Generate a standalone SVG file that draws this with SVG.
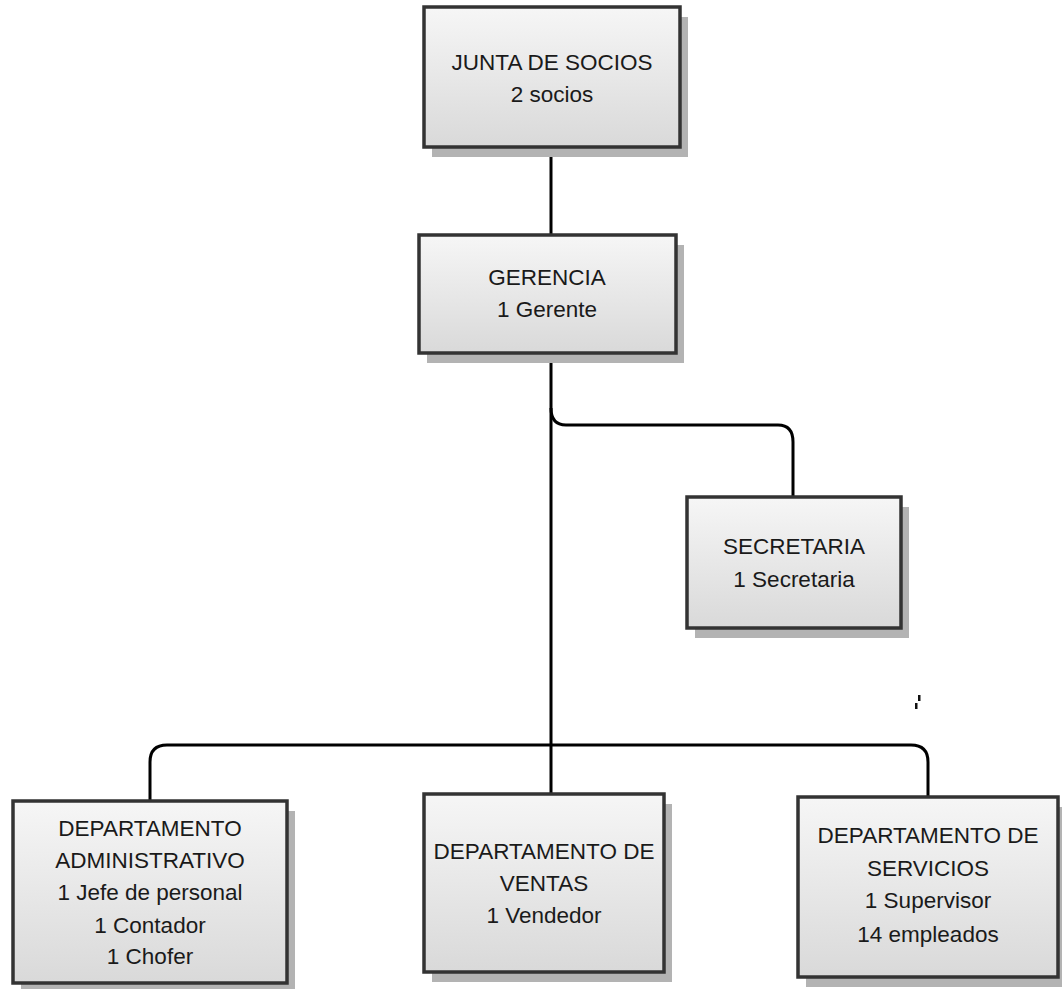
<svg xmlns="http://www.w3.org/2000/svg" width="1062" height="989" viewBox="0 0 1062 989">
<defs>
<linearGradient id="g" x1="0" y1="0" x2="0" y2="1">
<stop offset="0" stop-color="#f6f6f6"/>
<stop offset="1" stop-color="#d9d9d9"/>
</linearGradient>
</defs>
<style>
.box{fill:url(#g);stroke:#333;stroke-width:3.5}
.sh{fill:#b3b3b3}
.t{font-family:"Liberation Sans",Arial,sans-serif;font-size:22.5px;fill:#1a1a1a;text-anchor:middle}
.c{fill:none;stroke:#000;stroke-width:3}
</style>
<rect width="1062" height="989" fill="#fff"/>
<g id="connectors">
<path class="c" d="M551 147 V235"/>
<path class="c" d="M551 353 V795"/>
<path class="c" d="M551 408 Q551 425 566 425 H778 Q793 425 793 442 V497"/>
<path class="c" d="M150 801 V762 Q150 745 167 745 H911 Q928 745 928 762 V797"/>
</g>
<g id="junta">
<rect class="sh" x="432" y="17" width="256" height="140"/>
<rect class="box" x="424" y="7" width="256" height="140"/>
<text class="t" x="552" y="70">JUNTA DE SOCIOS</text>
<text class="t" x="552" y="102">2 socios</text>
</g>
<g id="gerencia">
<rect class="sh" x="427" y="245" width="257" height="118"/>
<rect class="box" x="419" y="235" width="257" height="118"/>
<text class="t" x="547" y="285">GERENCIA</text>
<text class="t" x="547" y="317">1 Gerente</text>
</g>
<g id="secretaria">
<rect class="sh" x="695" y="507" width="214" height="131"/>
<rect class="box" x="687" y="497" width="214" height="131"/>
<text class="t" x="794" y="554">SECRETARIA</text>
<text class="t" x="794" y="587">1 Secretaria</text>
</g>
<g id="mark">
<rect x="918" y="695" width="2.5" height="6" fill="#111"/>
<rect x="915" y="703" width="2.5" height="6" fill="#111"/>
</g>
<g id="administrativo">
<rect class="sh" x="21" y="811" width="274" height="182"/>
<rect class="box" x="13" y="801" width="274" height="182"/>
<text class="t" x="150" y="836">DEPARTAMENTO</text>
<text class="t" x="150" y="868">ADMINISTRATIVO</text>
<text class="t" x="150" y="900">1 Jefe de personal</text>
<text class="t" x="150" y="933">1 Contador</text>
<text class="t" x="150" y="964">1 Chofer</text>
</g>
<g id="ventas">
<rect class="sh" x="432" y="804" width="240" height="178"/>
<rect class="box" x="424" y="794" width="240" height="178"/>
<text class="t" x="544" y="859">DEPARTAMENTO DE</text>
<text class="t" x="544" y="891">VENTAS</text>
<text class="t" x="544" y="923">1 Vendedor</text>
</g>
<g id="servicios">
<rect class="sh" x="806" y="807" width="260" height="180"/>
<rect class="box" x="798" y="797" width="260" height="180"/>
<text class="t" x="928" y="843">DEPARTAMENTO DE</text>
<text class="t" x="928" y="876">SERVICIOS</text>
<text class="t" x="928" y="908">1 Supervisor</text>
<text class="t" x="928" y="942">14 empleados</text>
</g>
</svg>
